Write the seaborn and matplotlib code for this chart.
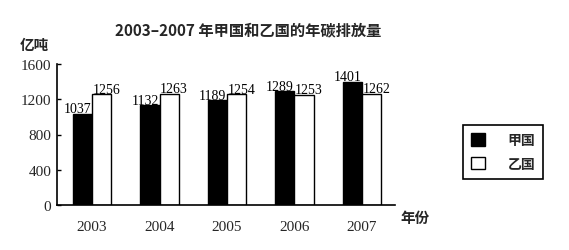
import matplotlib
matplotlib.use("Agg")
import matplotlib.pyplot as plt
import seaborn as sns
import pandas as pd
from matplotlib.patches import Patch

years = ["2003", "2004", "2005", "2006", "2007"]
jia = [1037, 1132, 1189, 1289, 1401]
yi = [1256, 1263, 1254, 1253, 1262]
series_names = ["甲国", "乙国"]
yticks = [0, 400, 800, 1200, 1600]

df = pd.DataFrame({
    "year": years * 2,
    "value": jia + yi,
    "country": [series_names[0]] * len(years) + [series_names[1]] * len(years),
})

sns.set_theme(style="white")
plt.rcParams["font.family"] = ["Noto Sans CJK SC", "DejaVu Sans"]
serif = ["Liberation Serif", "DejaVu Serif"]
cjk = ["Noto Sans CJK SC", "DejaVu Sans"]

fig = plt.figure(figsize=(5.69, 2.51), dpi=100)
ax = fig.add_axes([57 / 569, 45 / 251, (395 - 57) / 569, 141 / 251])

sns.barplot(data=df, x="year", y="value", hue="country", order=years,
            hue_order=series_names, palette=["black", "white"],
            edgecolor="black", linewidth=1.0, width=0.57, ax=ax, legend=False)

shifts = [-3.5, 3.5]
for cont, dx in zip(ax.containers, shifts):
    anns = ax.bar_label(cont, fmt="%d", padding=-1, fontsize=10, family=serif, color="black")
    for a in anns:
        a.xyann = (dx, -1)

ax.set_ylim(0, 1600)
ax.set_xlim(-0.52, 4.49)
ax.set_yticks(yticks)
ax.set_yticklabels([str(v) for v in yticks], family=serif, fontsize=11)
ax.set_xticklabels(years, family=serif, fontsize=11)
ax.set_xlabel("")
ax.set_ylabel("")
for s in ["top", "right"]:
    ax.spines[s].set_visible(False)
for s in ["left", "bottom"]:
    ax.spines[s].set_color("black")
    ax.spines[s].set_linewidth(1.2)
ax.tick_params(axis="y", left=True, length=3, width=1, color="black", direction="in", pad=4)
ax.tick_params(axis="x", bottom=False, pad=5)

fig.text(248 / 569, 1 - 30 / 251, "2003–2007 年甲国和乙国的年碳排放量", ha="center", va="center",
         fontsize=11, fontweight="bold", family=cjk)
fig.text(20 / 569, 1 - 45 / 251, "亿吨", ha="left", va="center", fontsize=10.5,
         fontweight="bold", family=cjk)
fig.text(400 / 569, 1 - 218 / 251, "年份", ha="left", va="center", fontsize=10.5,
         fontweight="bold", family=cjk)

handles = [Patch(facecolor="black", edgecolor="black", label=series_names[0]),
           Patch(facecolor="white", edgecolor="black", label=series_names[1])]
leg = fig.legend(handles=handles, loc="upper left", bbox_to_anchor=(456 / 569, 1 - 119 / 251),
                 frameon=True, fancybox=False, edgecolor="black", framealpha=1,
                 handlelength=1.0, handleheight=1.0, handletextpad=1.6, borderpad=0.6,
                 labelspacing=0.7, prop={"family": cjk, "weight": "bold", "size": 10})
leg.get_frame().set_linewidth(1.2)

fig.savefig("out.png", dpi=100, facecolor="white")
